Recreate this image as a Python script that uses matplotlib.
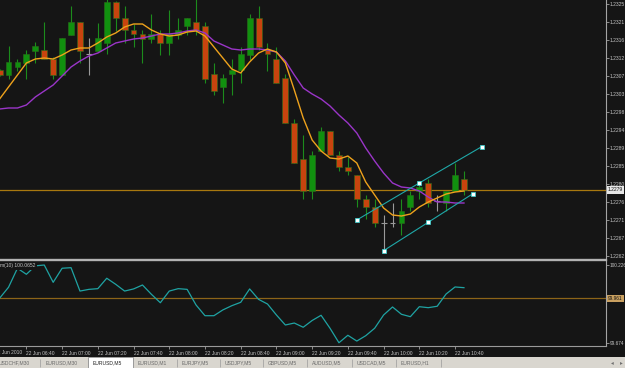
import matplotlib
matplotlib.use('Agg')
import matplotlib.pyplot as plt
from matplotlib.patches import Rectangle

# ---------------- data ----------------
opens  = [1.23085, 1.23073, 1.23093, 1.23103, 1.23133, 1.23135, 1.23113, 1.23073, 1.23173, 1.23205,
          1.23125, 1.23133, 1.23153, 1.23255, 1.23215, 1.23185, 1.23175, 1.23163, 1.23175, 1.23153,
          1.23173, 1.23195, 1.23205, 1.23195, 1.23075, 1.23043, 1.23075, 1.23085, 1.23123, 1.23215,
          1.23135, 1.23113, 1.23065, 1.22953, 1.22863, 1.22783, 1.22883, 1.22933, 1.22873, 1.22843,
          1.22823, 1.22763, 1.22743, 1.22703, 1.22703, 1.22703, 1.22743, 1.22783, 1.22803, 1.22758,
          1.22753, 1.22783, 1.22813]
highs  = [1.23088, 1.23145, 1.23113, 1.23135, 1.23155, 1.23205, 1.23118, 1.23165, 1.23245, 1.23205,
          1.23165, 1.23203, 1.23262, 1.23258, 1.23245, 1.23200, 1.23185, 1.23225, 1.23185, 1.23235,
          1.23215, 1.23215, 1.23262, 1.23205, 1.23103, 1.23075, 1.23113, 1.23143, 1.23225, 1.23245,
          1.23153, 1.23143, 1.23075, 1.22963, 1.22923, 1.22883, 1.22943, 1.22933, 1.22883, 1.22868,
          1.22823, 1.22773, 1.22763, 1.22723, 1.22753, 1.22763, 1.22783, 1.22803, 1.22813, 1.22773,
          1.22783, 1.22853, 1.22833]
lows   = [1.23070, 1.23063, 1.23083, 1.23063, 1.23103, 1.23113, 1.23063, 1.23073, 1.23173, 1.23103,
          1.23073, 1.23133, 1.23125, 1.23183, 1.23153, 1.23143, 1.23103, 1.23153, 1.23123, 1.23123,
          1.23163, 1.23173, 1.23173, 1.23053, 1.23023, 1.23003, 1.23023, 1.23053, 1.23110, 1.23135,
          1.23083, 1.23053, 1.22953, 1.22853, 1.22763, 1.22763, 1.22883, 1.22873, 1.22833, 1.22823,
          1.22743, 1.22713, 1.22693, 1.22633, 1.22693, 1.22673, 1.22733, 1.22763, 1.22743, 1.22733,
          1.22733, 1.22783, 1.22773]
closes = [1.23073, 1.23105, 1.23105, 1.23125, 1.23145, 1.23113, 1.23073, 1.23165, 1.23205, 1.23133,
          1.23125, 1.23165, 1.23255, 1.23215, 1.23185, 1.23175, 1.23163, 1.23175, 1.23153, 1.23175,
          1.23185, 1.23215, 1.23185, 1.23063, 1.23033, 1.23065, 1.23085, 1.23125, 1.23215, 1.23143,
          1.23125, 1.23053, 1.22953, 1.22853, 1.22783, 1.22873, 1.22933, 1.22873, 1.22843, 1.22833,
          1.22763, 1.22743, 1.22703, 1.22703, 1.22703, 1.22733, 1.22773, 1.22793, 1.22753, 1.22758,
          1.22783, 1.22823, 1.22785]

ma_fast = [1.230125, 1.230425, 1.230725, 1.231025, 1.231125, 1.23115, 1.231125, 1.231225, 1.23135, 1.2314,
           1.2314, 1.231525, 1.231675, 1.231775, 1.231925, 1.232, 1.232, 1.23185, 1.23175, 1.2317,
           1.231725, 1.2318, 1.231825, 1.2317, 1.231425, 1.23115, 1.230875, 1.230775, 1.23105, 1.231275,
           1.231375, 1.2313, 1.231025, 1.23035, 1.22965, 1.2291, 1.228825, 1.22865, 1.228625, 1.2287,
           1.228525, 1.22805, 1.227725, 1.2274, 1.227225, 1.2272, 1.22725, 1.227425, 1.22755, 1.22765,
           1.22775, 1.2278, 1.227825]
ma_slow = [1.229875, 1.2299, 1.2299, 1.229975, 1.230175, 1.230325, 1.230475, 1.2307, 1.230925, 1.231075,
           1.2312, 1.231275, 1.2314, 1.231525, 1.231575, 1.231625, 1.23165, 1.2317, 1.23175, 1.23175,
           1.231775, 1.231825, 1.23185, 1.231775, 1.231575, 1.231475, 1.231375, 1.23135, 1.231375, 1.231375,
           1.23135, 1.2313, 1.231075, 1.230725, 1.2304, 1.23025, 1.230125, 1.22995, 1.229725, 1.229525,
           1.229275, 1.2289, 1.228575, 1.228275, 1.228025, 1.227925, 1.2279, 1.227825, 1.227675, 1.22755,
           1.22755, 1.227525, 1.227525]

momentum = [99.990, 100.068, 100.203, 100.160, 100.220, 100.226, 100.103, 100.203, 100.207, 100.041,
            100.053, 100.058, 100.132, 100.089, 100.041, 100.056, 100.084, 100.018, 99.958, 100.041,
            100.058, 100.053, 99.942, 99.866, 99.866, 99.907, 99.937, 99.961, 100.056, 99.982,
            99.949, 99.871, 99.800, 99.814, 99.784, 99.832, 99.869, 99.777, 99.674, 99.727,
            99.686, 99.724, 99.777, 99.871, 99.928, 99.876, 99.859, 99.930, 99.923, 99.933,
            100.020, 100.070, 100.065]
mom_level = 99.99

chan_upper_idx = [40, 47, 54]
chan_upper_val = [1.22710, 1.228025, 1.228935]
chan_lower_idx = [43, 48, 53]
chan_lower_val = [1.226333, 1.227043, 1.227758]

time_tick_idx = [3, 7, 11, 15, 19, 23, 27, 31, 35, 39, 43, 47, 51]
time_labels = ['22 Jun 06:40', '22 Jun 07:00', '22 Jun 07:20', '22 Jun 07:40', '22 Jun 08:00',
               '22 Jun 08:20', '22 Jun 08:40', '22 Jun 09:00', '22 Jun 09:20', '22 Jun 09:40',
               '22 Jun 10:00', '22 Jun 10:20', '22 Jun 10:40']
price_ticks = [1.23250, 1.23205, 1.23160, 1.23115, 1.23070, 1.23025, 1.22980, 1.22935,
               1.22890, 1.22845, 1.22800, 1.22755, 1.22710, 1.22665, 1.22620]
price_labels = ['1.2325', '1.2321', '1.2316', '1.2312', '1.2307', '1.2303', '1.2298', '1.2294',
                '1.2289', '1.2285', '1.2280', '1.2276', '1.2271', '1.2267', '1.2262']
mom_ticks = [100.226, 99.674]
mom_labels = ['100.226', '99.674']
tab_names = ['USDCHF,M30', 'EURUSD,M30', 'EURUSD,M5', 'EURUSD,M1', 'EURJPY,M5',
             'USDJPY,M5', 'GBPUSD,M5', 'AUDUSD,M5', 'USDCAD,M5', 'EURUSD,H1']
active_tab = 2

# ---------------- style ----------------
BG = '#151515'
UP = '#11900f'
DN = '#c8440e'
WICK = '#1c8c1c'
DOJI = '#9a9a9a'
TXT = '#c4c4c4'
FONT = 'Liberation Sans'

W, H = 625, 368
def box(x0, y0, x1, y1):
    return [x0 / W, 1 - y1 / H, (x1 - x0) / W, (y1 - y0) / H]

fig = plt.figure(figsize=(6.25, 3.68), dpi=100, facecolor=BG)
ax = fig.add_axes(box(0, 0, 605.5, 258.5), facecolor=BG)
axm = fig.add_axes(box(0, 259.5, 605.5, 345.7), facecolor=BG)
axt = fig.add_axes(box(0, 356.7, 625, 368), facecolor='#d9d6cf')

xlim = (0.045, 67.85)
px_per_price = 0.000025

# candles
n = len(closes)
idx = list(range(n))
bw = 0.66
for i in idx:
    o, h, l, c = opens[i], highs[i], lows[i], closes[i]
    if abs(o - c) < 1e-9:
        ax.vlines(i, l, h, color=DOJI, lw=0.8, zorder=2)
        ax.hlines(c, i - bw / 2, i + bw / 2, color=DOJI, lw=0.8, zorder=2)
        continue
    ax.vlines(i, l, h, color=WICK, lw=0.8, zorder=2)
    col = UP if c > o else DN
    ax.bar(i, abs(c - o), bottom=min(o, c), width=bw, color=col,
           edgecolor='#2a6e1a', linewidth=0.4, zorder=3)

ax.plot(idx, ma_slow, color='#9a35c8', lw=1.0, zorder=4)
ax.plot(idx, ma_fast, color='#eea21c', lw=1.0, zorder=5)
ax.axhline(closes[-1], color='#a8780f', lw=0.9, zorder=1)

for xs, ys in ((chan_upper_idx, chan_upper_val), (chan_lower_idx, chan_lower_val)):
    ax.plot(xs, ys, color='#1fa8a8', lw=0.8, zorder=6)
    ax.plot(xs, ys, ls='none', marker='s', ms=2.2, mfc='white', mec='#35d5d5', mew=0.5, zorder=7)

ax.set_xlim(*xlim)
ax.set_ylim(1.2326 - 258.5 * px_per_price, 1.2326)
ax.set_xticks([])
ax.yaxis.tick_right()
ax.set_yticks(price_ticks)
ax.set_yticklabels(price_labels)
ax.tick_params(axis='y', colors='#a0a0a0', labelcolor=TXT, length=2, width=0.6,
               labelsize=3.6, pad=1.2)
for lb in ax.get_yticklabels():
    lb.set_fontfamily(FONT)
for s in ('top', 'left', 'bottom'):
    ax.spines[s].set_visible(False)
ax.spines['right'].set_color('#a4a4a4')
ax.spines['right'].set_linewidth(0.8)
ax.text(1.004, closes[-1], '1.2279', transform=ax.get_yaxis_transform(), fontsize=3.6,
        family=FONT, color='#101010', va='center', ha='left', zorder=10, clip_on=False,
        bbox=dict(boxstyle='square,pad=0.25', fc='#e6e6e6', ec='none'))

# momentum panel
axm.plot(idx, momentum, color='#1fa3a3', lw=0.9, zorder=3)
axm.axhline(mom_level, color='#8c6418', lw=0.9, zorder=1)
axm.set_xlim(*xlim)
mom_top = 100.226 + (265 - 259.5) * 0.0071
mom_bot = 100.226 - (345.7 - 265) * 0.0071
axm.set_ylim(mom_bot, mom_top)
axm.yaxis.tick_right()
axm.set_yticks(mom_ticks)
axm.set_yticklabels(mom_labels)
axm.tick_params(axis='y', colors='#a0a0a0', labelcolor=TXT, length=2, width=0.6,
                labelsize=3.4, pad=0.8)
axm.set_xticks(time_tick_idx)
axm.set_xticklabels(time_labels)
axm.tick_params(axis='x', colors='#a0a0a0', labelcolor=TXT, length=2, width=0.6,
                labelsize=3.5, pad=1.5)
for lb in axm.get_xticklabels():
    lb.set_ha('left')
    lb.set_fontfamily(FONT)
for lb in axm.get_yticklabels():
    lb.set_fontfamily(FONT)
axm.spines['left'].set_visible(False)
axm.spines['top'].set_color('#b2b2b2')
axm.spines['top'].set_linewidth(1.7)
axm.spines['right'].set_color('#a4a4a4')
axm.spines['right'].set_linewidth(0.8)
axm.spines['bottom'].set_color('#9a9a9a')
axm.spines['bottom'].set_linewidth(0.8)
axm.text(0.0, 0.925, 'm(10) 100.0652', transform=axm.transAxes, fontsize=3.6, family=FONT,
         color=TXT, va='center', ha='left', zorder=8,
         bbox=dict(boxstyle='square,pad=0.25', fc=BG, ec='none'))
axm.text(1.004, mom_level, '99.961', transform=axm.get_yaxis_transform(), fontsize=3.4,
         family=FONT, color='#101010', va='center', ha='left', zorder=10, clip_on=False,
         bbox=dict(boxstyle='square,pad=0.25', fc='#c9a060', ec='none'))
axm.text(-0.5, -0.047, '22 Jun 2010', transform=axm.get_xaxis_transform(), fontsize=3.5,
         family=FONT, color=TXT, va='top', ha='left', clip_on=False)

# tab bar
axt.set_xlim(0, W)
axt.set_ylim(0, 11.3)
axt.set_xticks([])
axt.set_yticks([])
for s in axt.spines.values():
    s.set_visible(False)
tab_left = [-3, 44, 91, 136, 180, 223, 266, 310, 355, 399]
tab_sep = [40, 88, 133, 177, 220, 263, 307, 352, 396, 441]
for i, name in enumerate(tab_names):
    if i == active_tab:
        axt.add_patch(Rectangle((88, 0), 45, 11.3, fc='white', ec='#808080', lw=0.5))
    axt.text(tab_left[i] + 2, 5.3, name, fontsize=3.6, family=FONT,
             color='#202020' if i == active_tab else '#6a6a6a', va='center', ha='left')
for x in tab_sep:
    axt.vlines(x, 1.5, 9.5, color='#9a9a9a', lw=0.5)
axt.text(612, 5.3, '\u25c2', fontsize=4, color='#707070', va='center', ha='center')
axt.text(621, 5.3, '\u25b8', fontsize=4, color='#707070', va='center', ha='center')

fig.savefig('out.png', dpi=100, facecolor=BG)
